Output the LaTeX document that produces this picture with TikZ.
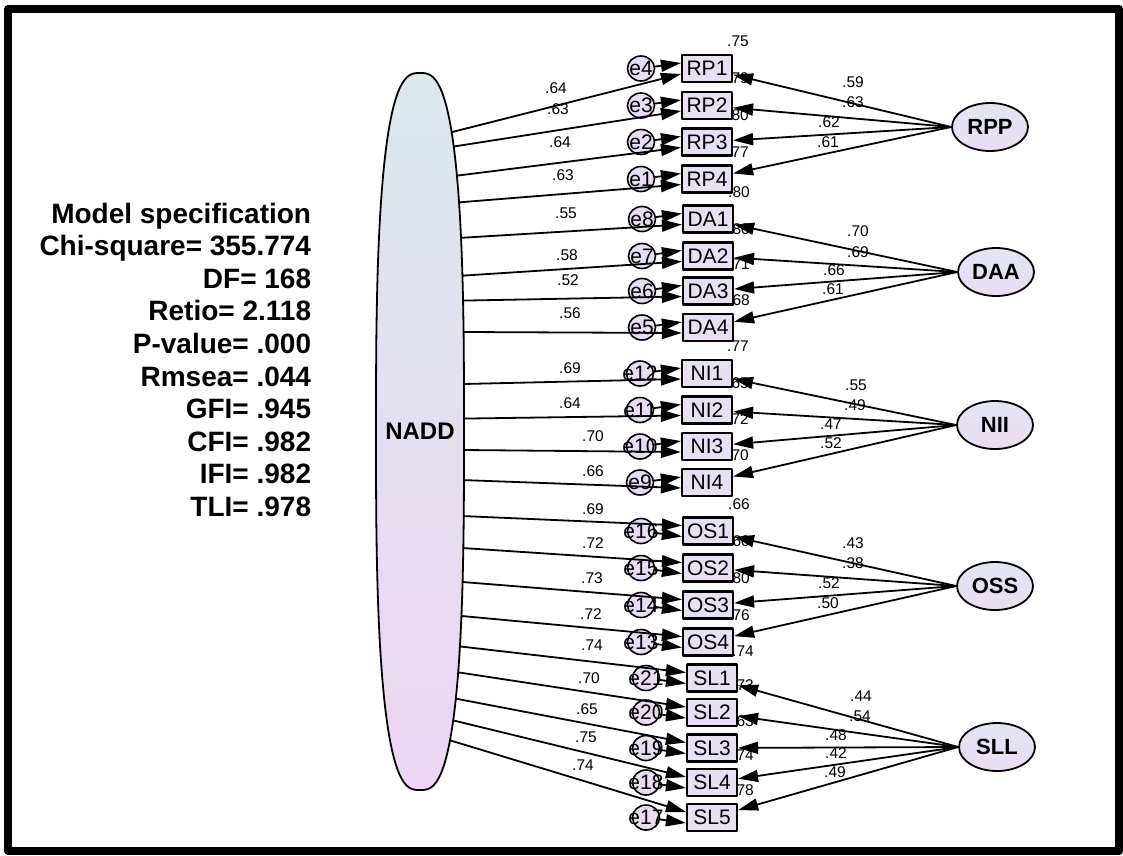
\documentclass[tikz,border=0pt]{standalone}
\usepackage{fontspec}
\setmainfont{Liberation Sans}
\usetikzlibrary{arrows.meta,calc,shapes.geometric}

\definecolor{boxfill}{RGB}{233,223,243}
\definecolor{errfill}{RGB}{232,220,242}
\definecolor{naddtop}{RGB}{220,232,236}
\definecolor{naddbot}{RGB}{236,214,244}
\definecolor{lattop}{RGB}{224,230,240}
\definecolor{latbot}{RGB}{236,220,244}

\tikzset{
  obs/.style={draw, line width=2.2pt, fill=boxfill, minimum width=50pt, minimum height=27pt,
    inner sep=0pt, font=\fontsize{21}{21}\selectfont},
  err/.style={draw, ellipse, line width=1.6pt, fill=errfill, minimum width=27pt, minimum height=25pt,
    inner sep=0pt, font=\fontsize{21}{21}\selectfont},
  lat/.style={draw, ellipse, line width=1.8pt, top color=lattop, bottom color=latbot,
    minimum width=76pt, minimum height=48pt, inner sep=0pt, font=\bfseries\fontsize{22}{22}\selectfont},
  coef/.style={inner sep=0pt, font=\fontsize{15.5}{15.5}\selectfont},
  spec/.style={anchor=base east, inner sep=0pt, font=\bfseries\fontsize{28}{28}\selectfont},
}

% indicator / box x / box y / error / error x / start y / side / R2 / loading / label x / label y
\def\indicators{%
  RP1/707/68.5/e4/641/140.2/1/.75/.64/556/88,
  RP2/707/105.5/e3/641/151.8/1/.79/.63/558/109,
  RP3/707/142/e2/641/180.3/1/.80/.64/560/142,
  RP4/707/179/e1/641/205.5/1/.77/.63/563/175,
  DA1/708/219/e8/642/240.3/1/.80/.55/566/213,
  DA2/708/256/e7/642/278.4/1/.80/.58/567/255,
  DA3/708/291/e6/642/301.4/1/.71/.52/568/280,
  DA4/708/327.5/e5/642/331.8/1/.68/.56/570/313,
  NI1/707/373.5/e12/640/385/1/.77/.69/570/368,
  NI2/707/410/e11/640/419.2/1/.65/.64/570/403,
  NI3/707/446.5/e10/640/449.6/1/.72/.70/593/436,
  NI4/707/482.5/e9/640/478.5/1/.70/.66/593/471,
  OS1/708/531/e16/641/514.2/-1/.66/.69/593/509,
  OS2/708/568/e15/641/545.2/-1/.60/.72/593/543,
  OS3/708/605/e14/641/578.6/-1/.80/.73/592/578,
  OS4/708/642/e13/641/612.1/-1/.76/.72/591/614,
  SL1/712/678/e21/646/641.8/-1/.74/.74/592/645,
  SL2/712/712.5/e20/646/666.5/-1/.73/.70/589/678,
  SL3/712/748/e19/646/691.8/-1/.63/.65/587/709,
  SL4/712/782.5/e18/646/712.3/-1/.74/.75/586/737,
  SL5/712/817.5/e17/646/731.2/-1/.78/.74/583/765}

\begin{document}
\begin{tikzpicture}[x=1pt, y=-1pt, line width=1.8pt, line join=round,
    >={Triangle[length=20pt,width=12pt]}]
  \useasboundingbox (0,0) rectangle (1123,855);
  % --- frame ---
  \draw[line width=8pt] (8,9) rectangle (1119,851);
  \coordinate (nadd) at (420,431.5);
  % --- squared multiple correlations (under the boxes) ---
  \foreach \b/\x/\y/\e/\ex/\ys/\s/\rsq/\ld/\lx/\ly in \indicators
    \node[coef] (rsq\b) at (\x+31,\y-27) {\rsq};
  % --- errors and indicators ---
  \foreach \b/\x/\y/\e/\ex/\ys/\s/\rsq/\ld/\lx/\ly in \indicators {
    \node[err] (\e) at (\ex,\y) {\makebox[0pt]{\e}};
    \node[obs] (\b) at (\x,\y) {\b};
  }
  % --- general factor loadings ---
  \foreach \b/\x/\y/\e/\ex/\ys/\s/\rsq/\ld/\lx/\ly in \indicators {
    \coordinate (s\b) at (420,\ys);
    \draw[->] (s\b) -- ($(\b.west)+(0,5.5*\s)$);
    \draw[->] (\e) -- ($(\b.west)+(0,-5.5*\s)$);
    \node[coef] (ld\b) at (\lx,\ly) {\ld};
  }
  % --- general factor ---
  \draw[line width=1.8pt, top color=naddtop, bottom color=naddbot]
    plot[domain=0.625:359.375, samples=288]
    ({420+44*sign(cos(\x))*abs(cos(\x))^0.714}, {431.5+358.5*sign(sin(\x))*abs(sin(\x))^0.714}) -- cycle;
  \node[font=\bfseries\fontsize{24}{24}\selectfont] (NADD) at (nadd) {NADD};
  % --- specific factors ---
  \foreach \f/\fx/\fy in {RPP/990/127, DAA/996/272, NII/995/425, OSS/995/586, SLL/997/747}
    \node[lat] (\f) at (\fx,\fy) {\f};
  \foreach \f/\b/\ld/\lx/\ly in {
      RPP/RP1/.59/853/82, RPP/RP2/.63/853/102, RPP/RP3/.62/829/122, RPP/RP4/.61/828/142,
      DAA/DA1/.70/858/231, DAA/DA2/.69/858/252, DAA/DA3/.66/834/270, DAA/DA4/.61/833/289,
      NII/NI1/.55/856/385, NII/NI2/.49/855/405, NII/NI3/.47/831/424, NII/NI4/.52/831/443,
      OSS/OS1/.43/853/543, OSS/OS2/.38/853/563, OSS/OS3/.52/829/583, OSS/OS4/.50/828/603,
      SLL/SL1/.44/861/696, SLL/SL2/.54/860/716, SLL/SL3/.48/836/735, SLL/SL4/.42/836/753,
      SLL/SL5/.49/835/772} {
    \draw[->] (\f.west) -- (\b);
    \node[coef] (sp\b) at (\lx,\ly) {\ld};
  }
  % --- fit indices ---
  \foreach \t [count=\i from 0] in {Model specification, Chi-square= 355.774, DF= 168,
      Retio= 2.118, P-value= .000, Rmsea= .044, GFI= .945, CFI= .982, IFI= .982, TLI= .978}
    \node[spec] (spec\i) at (312,223+32.6*\i) {\t};
\end{tikzpicture}
\end{document}
